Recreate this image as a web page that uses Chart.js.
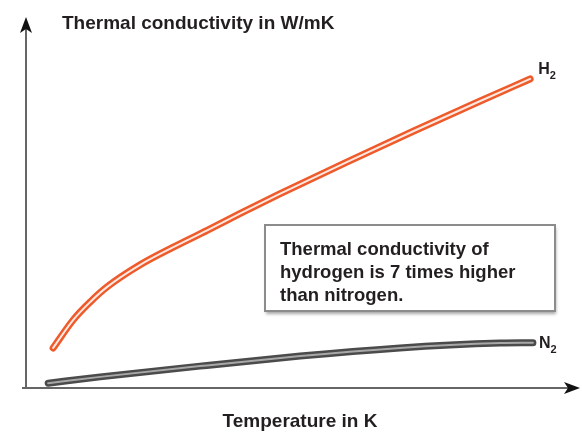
<!DOCTYPE html>
<html>
<head>
<meta charset="utf-8">
<script src="https://cdn.jsdelivr.net/npm/chart.js@4"></script>
<style>
  html, body { margin: 0; padding: 0; background: #fff; }
  #wrap { width: 582px; height: 434px; }
</style>
</head>
<body>
<div id="wrap"><canvas id="chart" width="582" height="434"></canvas></div>
<script>
// values (arbitrary 0-100 units, no ticks in source)
const h2Temp = [4.9, 8.5, 11.6, 14.6, 20.6, 26.5, 32.7, 38.6, 45.8, 57.9, 69.9, 81.9, 91.0];
const h2Cond = [10.8, 18.3, 23.2, 27.2, 33.2, 37.9, 42.5, 47.0, 52.3, 60.9, 69.2, 77.3, 83.3];
const n2Temp = [4.0, 13.4, 31.4, 49.5, 67.5, 76.5, 85.6, 91.5];
const n2Cond = [1.3, 3.0, 5.9, 8.6, 10.8, 11.6, 12.1, 12.2];

const yTitle = 'Thermal conductivity in W/mK';
const xTitle = 'Temperature in K';
const noteLines = ['Thermal conductivity of', 'hydrogen is 7 times higher', 'than nitrogen.'];

const toPoints = (xs, ys) => xs.map((x, i) => ({ x, y: ys[i] }));
const FONT = '"Liberation Sans", Arial, sans-serif';
const INK = '#231f20';

const lineBase = {
  fill: false,
  pointRadius: 0,
  cubicInterpolationMode: 'monotone',
  borderCapStyle: 'round',
  borderJoinStyle: 'round'
};

// axes with arrowheads, drawn under the curves
const axesPlugin = {
  id: 'axes',
  beforeDatasetsDraw(chart) {
    const { ctx, chartArea: a } = chart;
    ctx.save();
    ctx.strokeStyle = '#666';
    ctx.lineWidth = 2;
    ctx.beginPath();
    ctx.moveTo(a.left, a.bottom);
    ctx.lineTo(a.left, a.top + 8);
    ctx.moveTo(a.left - 4, a.bottom);
    ctx.lineTo(a.right - 8, a.bottom);
    ctx.stroke();

    ctx.fillStyle = '#111';
    // up arrow
    ctx.beginPath();
    ctx.moveTo(a.left, a.top);
    ctx.lineTo(a.left + 6, a.top + 16);
    ctx.lineTo(a.left, a.top + 12);
    ctx.lineTo(a.left - 6, a.top + 16);
    ctx.closePath();
    ctx.fill();
    // right arrow
    ctx.beginPath();
    ctx.moveTo(a.right, a.bottom);
    ctx.lineTo(a.right - 16, a.bottom - 6);
    ctx.lineTo(a.right - 12, a.bottom);
    ctx.lineTo(a.right - 16, a.bottom + 6);
    ctx.closePath();
    ctx.fill();
    ctx.restore();
  }
};

// titles, note box and series labels
const textPlugin = {
  id: 'texts',
  afterDraw(chart) {
    const { ctx } = chart;
    ctx.save();
    ctx.fillStyle = INK;
    ctx.font = 'bold 19px ' + FONT;
    ctx.textBaseline = 'alphabetic';
    ctx.textAlign = 'left';
    ctx.fillText(yTitle, 62, 29);
    ctx.textAlign = 'center';
    ctx.fillText(xTitle, 300, 427);

    // note box
    ctx.save();
    ctx.shadowColor = 'rgba(0,0,0,0.35)';
    ctx.shadowBlur = 3;
    ctx.shadowOffsetX = 1;
    ctx.shadowOffsetY = 3;
    ctx.fillStyle = '#fff';
    ctx.fillRect(265, 225, 290, 86);
    ctx.restore();
    ctx.strokeStyle = '#8c8c8c';
    ctx.lineWidth = 2;
    ctx.strokeRect(265, 225, 290, 86);

    ctx.fillStyle = INK;
    ctx.textAlign = 'left';
    ctx.font = 'bold 18.5px ' + FONT;
    noteLines.forEach((t, i) => ctx.fillText(t, 280, 255 + i * 23));

    // series labels at the line ends
    const xs = chart.scales.x, ys = chart.scales.y;
    const sub = (name, x, y) => {
      ctx.font = 'bold 16px ' + FONT;
      ctx.fillText(name, x, y);
      const w = ctx.measureText(name).width;
      ctx.font = 'bold 11px ' + FONT;
      ctx.fillText('2', x + w, y + 5);
    };
    const h2End = h2Temp.length - 1, n2End = n2Temp.length - 1;
    sub('H', xs.getPixelForValue(h2Temp[h2End]) + 8, ys.getPixelForValue(h2Cond[h2End]) - 5);
    sub('N', xs.getPixelForValue(n2Temp[n2End]) + 6, ys.getPixelForValue(n2Cond[n2End]) + 5);
    ctx.restore();
  }
};

new Chart(document.getElementById('chart'), {
  type: 'line',
  data: {
    datasets: [
      { ...lineBase, data: toPoints(h2Temp, h2Cond), borderColor: '#fde9e1', borderWidth: 2, order: 0 },
      { ...lineBase, data: toPoints(n2Temp, n2Cond), borderColor: '#a8a8a8', borderWidth: 2, order: 0 },
      { ...lineBase, data: toPoints(h2Temp, h2Cond), borderColor: '#ef5a2b', borderWidth: 7, order: 1 },
      { ...lineBase, data: toPoints(n2Temp, n2Cond), borderColor: '#4b4b4b', borderWidth: 7, order: 1 }
    ]
  },
  options: {
    responsive: false,
    animation: false,
    layout: { padding: { left: 26, right: 2, top: 17, bottom: 46 } },
    plugins: { legend: { display: false }, tooltip: { enabled: false } },
    scales: {
      x: { type: 'linear', min: 0, max: 100, display: false },
      y: { type: 'linear', min: 0, max: 100, display: false }
    }
  },
  plugins: [axesPlugin, textPlugin]
});
</script>
</body>
</html>
